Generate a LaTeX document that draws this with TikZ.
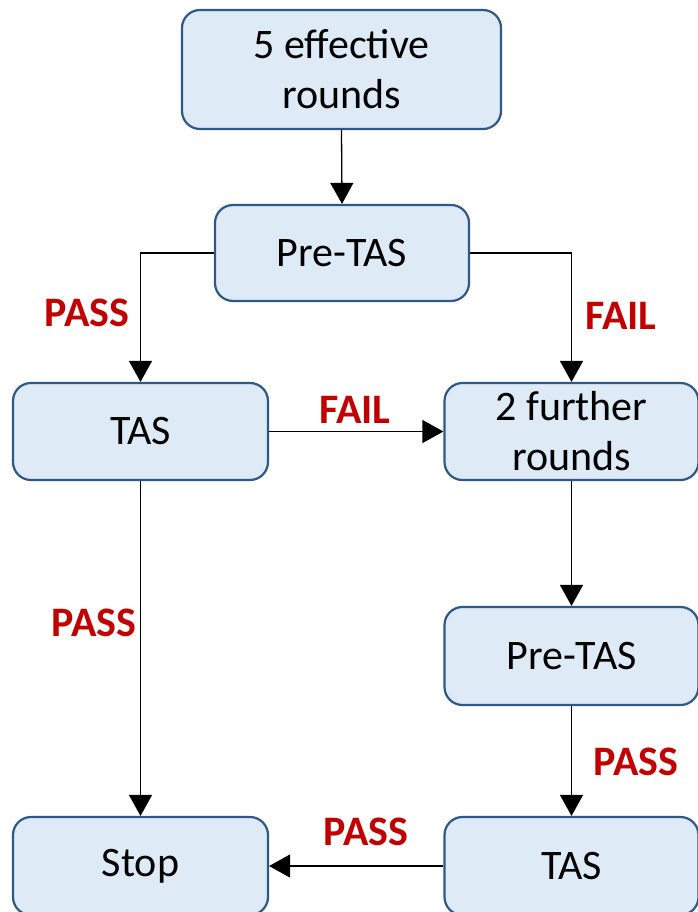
\documentclass[tikz,border=0pt]{standalone}
\usepackage{fontspec}
\setmainfont{Carlito}
\usetikzlibrary{arrows.meta}
\definecolor{boxfill}{RGB}{222,235,246}
\definecolor{boxline}{RGB}{47,88,135}
\definecolor{lblred}{RGB}{192,0,0}
\tikzset{
  flowbox/.style={draw=boxline, fill=boxfill, line width=2.2pt, rounded corners=18pt,
    inner sep=0pt, align=center, font=\fontsize{42}{50}\selectfont},
  conn/.style={line width=1.3pt, -{Triangle[length=21pt,width=23pt]}},
  lbl/.style={text=lblred, font=\fontsize{42}{48}\selectfont\bfseries, inner sep=0pt}
}
\begin{document}
\begin{tikzpicture}[x=1pt,y=-1pt]
\useasboundingbox (0,0) rectangle (698,912);
\clip (0,0) rectangle (698,912);
\node[flowbox, minimum width=319pt, minimum height=119pt] (top) at (341.5,69.5) {5 effective\\rounds};
\node[flowbox, minimum width=254pt, minimum height=96pt] (pre1) at (342,253) {Pre-TAS};
\node[flowbox, minimum width=255pt, minimum height=97pt] (tasl) at (140.5,431.5) {TAS};
\node[flowbox, minimum width=254pt, minimum height=97pt] (fur) at (571.5,431.5) {2 further\\rounds};
\node[flowbox, minimum width=254pt, minimum height=98pt] (pre2) at (571.5,656) {Pre-TAS};
\node[flowbox, minimum width=254pt, minimum height=98pt] (tasr) at (571.5,866) {TAS};
\node[flowbox, minimum width=255pt, minimum height=98pt] (stop) at (140.5,866) {Stop};

\draw[conn] (top.south) -- (pre1.north);
\draw[conn] (pre1.west) -| (tasl.north);
\draw[conn] (pre1.east) -| (fur.north);
\draw[conn] (tasl.east) -- (fur.west);
\draw[conn] (fur.south) -- (pre2.north);
\draw[conn] (pre2.south) -- (tasr.north);
\draw[conn] (tasl.south) -- (stop.north);
\draw[conn] (tasr.west) -- (stop.east);

\node[lbl] (l1) at (87,313) {PASS};
\node[lbl] (l2) at (621,316) {FAIL};
\node[lbl] (l3) at (355,410) {FAIL};
\node[lbl] (l4) at (94,623) {PASS};
\node[lbl] (l5) at (636,762) {PASS};
\node[lbl] (l6) at (366,832) {PASS};
\end{tikzpicture}
\end{document}
